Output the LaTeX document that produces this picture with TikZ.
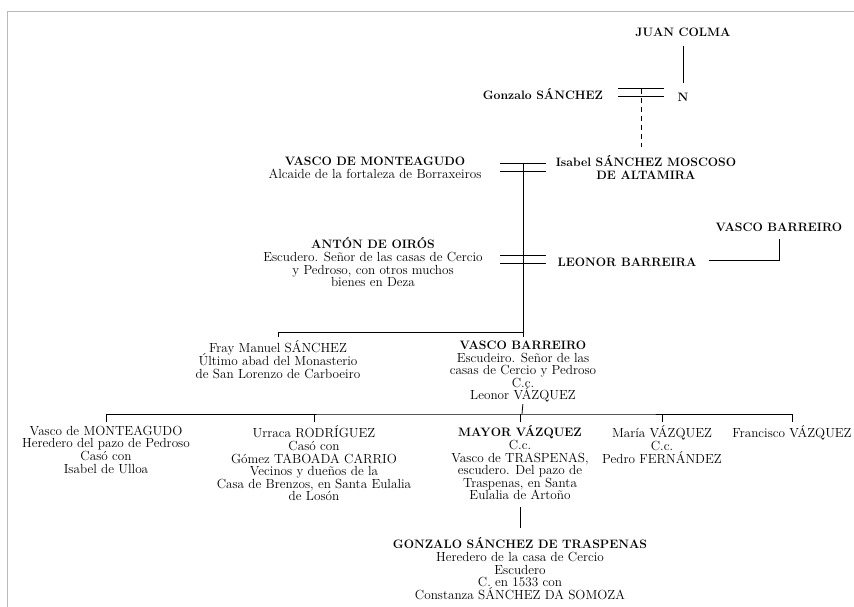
\documentclass[tikz,border=0pt]{standalone}
\usepackage{tikz}
\usetikzlibrary{positioning}

% marriage sign: two short bars, with coordinates on both of them
\newcommand{\wedlock}[2]{%
  \coordinate (#1) at (#2);
  \coordinate (#1-hi) at ([yshift=-3.75pt]#1);
  \coordinate (#1-lo) at ([yshift=3.75pt]#1);
  \draw[bar] ([xshift=-23pt]#1-hi) -- ([xshift=23pt]#1-hi);
  \draw[bar] ([xshift=-23pt]#1-lo) -- ([xshift=23pt]#1-lo);
}
% bold names, a little smaller than the plain text
\newcommand{\nm}[1]{{\fontsize{12.2}{12.6}\selectfont\bfseries #1}}
% keep the lines at an even distance, accents or not
\newcommand{\evenlines}{\lineskiplimit=-20pt\relax\lineskip=0pt\relax}

\begin{document}
\begin{tikzpicture}[x=1pt,y=-1pt,
    person/.style={anchor=north,inner sep=0pt,align=center,
      font=\fontsize{13.2}{12.6}\selectfont,
      execute at begin node={\evenlines\rule{0pt}{11.5pt}}},
    kin/.style={line width=0.8pt},
    bar/.style={line width=0.8pt},
    frame/.style={gray!55,line width=0.7pt}]
    \useasboundingbox (0,0) rectangle (854,607);
    \draw[frame] (854,11) -- (7,11) -- (7,607);

    % first generations
    \node[person] (juan) at (683,24.7) {\nm{JUAN COLMA}};
    \node[person] (n) at (683,89.7) {\nm{N}};
    \node[person] (gonzaloS) at (543,87.7) {\nm{Gonzalo SÁNCHEZ}};
    \node[person] (isabel) at (646,155.7) {\nm{Isabel SÁNCHEZ MOSCOSO}\\\nm{DE ALTAMIRA}};
    \node[person] (vascoM) at (375,156.7) {\nm{VASCO DE MONTEAGUDO}\\Alcaide de la fortaleza de Borraxeiros};
    \node[person] (anton) at (373,237.7) {\nm{ANTÓN DE OIRÓS}\\Escudero. Señor de las casas de Cercio\\y Pedroso, con otros muchos\\bienes en Deza};
    \node[person] (leonorB) at (627,254.7) {\nm{LEONOR BARREIRA}};
    \node[person] (vascoB1) at (779,219.7) {\nm{VASCO BARREIRO}};

    \wedlock{wed1}{641,92.5}
    \wedlock{wed2}{523,167.5}
    \wedlock{wed3}{523,259.5}

    \draw[kin,shorten <=9pt,shorten >=6.7pt] (juan.south) -- (n.north);
    \draw[kin,dash pattern=on 5pt off 4pt,shorten >=8.7pt] (wed1-lo) -- (wed1-lo |- isabel.north);
    \draw[kin] (wed2-lo) -- (wed3-hi);
    \draw[kin,shorten <=12pt,shorten >=6.8pt] (leonorB.east) -| (vascoB1.south);

    % children of Antón and Leonor
    \node[person] (fray) at (278,340.7) {Fray Manuel SÁNCHEZ\\Último abad del Monasterio\\de San Lorenzo de Carboeiro};
    \node[person] (vascoB2) at (523,340.7) {\nm{VASCO BARREIRO}\\Escudeiro. Señor de las\\casas de Cercio y Pedroso\\C.c.\\Leonor VÁZQUEZ};
    \coordinate (kids1) at (523,332);
    \draw[kin,shorten >=3.7pt] (wed3-lo) -- (kids1) -| (fray.north);
    \draw[kin,shorten >=3.7pt] (kids1) -- (vascoB2.north);

    % children of Vasco and Leonor
    \node[person] (vascoMo) at (106,425.7) {Vasco de MONTEAGUDO\\Heredero del pazo de Pedroso\\Casó con\\Isabel de Ulloa};
    \node[person] (urraca) at (314,425.7) {Urraca RODRÍGUEZ\\Casó con\\Gómez TABOADA CARRIO\\Vecinos y dueños de la\\Casa de Brenzos, en Santa Eulalia\\de Losón};
    \node[person] (mayor) at (520,425.7) {\nm{MAYOR VÁZQUEZ}\\C.c.\\Vasco de TRASPENAS,\\escudero. Del pazo de\\Traspenas, en Santa\\Eulalia de Artoño};
    \node[person] (maria) at (662,425.7) {María VÁZQUEZ\\C.c.\\Pedro FERNÁNDEZ};
    \node[person] (francisco) at (792,425.7) {Francisco VÁZQUEZ};
    \coordinate (kids2) at (522,414);
    \draw[kin,shorten <=1.5pt] (vascoB2.south) -- (kids2);
    \draw[kin,shorten <=3.7pt,shorten >=3.7pt] (vascoMo.north) |- (kids2) -| (francisco.north);
    \foreach \kid in {urraca,mayor,maria}
        \draw[kin,shorten <=3.7pt] (\kid.north) -- (\kid.north |- kids2);

    % grandson
    \node[person] (gonzaloT) at (520,537.7) {\nm{GONZALO SÁNCHEZ DE TRASPENAS}\\Heredero de la casa de Cercio\\Escudero\\C. en 1533 con\\Constanza SÁNCHEZ DA SOMOZA};
    \draw[kin,shorten <=7pt,shorten >=9.7pt] (mayor.south) -- (gonzaloT.north);
\end{tikzpicture}
\end{document}
